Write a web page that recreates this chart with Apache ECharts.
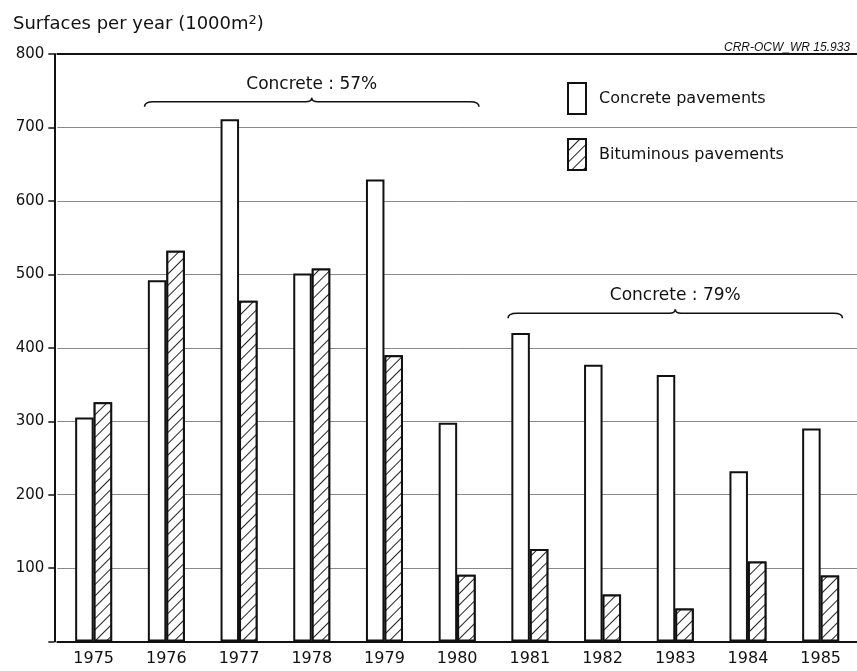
<!DOCTYPE html>
<html>
<head>
<meta charset="utf-8">
<script src="https://cdn.jsdelivr.net/npm/echarts@6/dist/echarts.min.js"></script>
<style>html,body{margin:0;padding:0;background:#fff}#c{width:857px;height:671px}</style>
</head>
<body>
<div id="c"></div>
<script>
const years = ['1975','1976','1977','1978','1979','1980','1981','1982','1983','1984','1985'];
const concrete = [305, 492, 711, 501, 629, 298, 420, 377, 363, 232, 290];
const bituminous = [326, 532, 464, 508, 390, 91, 126, 64, 45, 109, 90];
const yTicks = [0, 100, 200, 300, 400, 500, 600, 700, 800];
// brace annotations: [startIndex, endIndex, level, label]
const braces = [
  [1, 5, 735, 'Concrete : 57%'],
  [6, 10, 447, 'Concrete : 79%']
];

const FONT = 'DejaVu Sans';
const chart = echarts.init(document.getElementById('c'), null, {renderer: 'canvas'});

function braceItem(params, api) {
  const s = api.coord([api.value(0), api.value(2)]);
  const e = api.coord([api.value(1), api.value(2)]);
  const band = api.size([1, 0])[0];
  const pad = band * 0.3;
  const x0 = s[0] - pad, x1 = e[0] + pad, y = s[1];
  const xm = (x0 + x1) / 2;
  const h = 5;
  const d = `M${x0},${y + h} Q${x0},${y} ${x0 + 9},${y} L${xm - 6},${y} Q${xm},${y} ${xm},${y - 4} Q${xm},${y} ${xm + 6},${y} L${x1 - 9},${y} Q${x1},${y} ${x1},${y + h}`;
  return {
    type: 'group',
    children: [
      {type: 'path', shape: {pathData: d}, style: {fill: 'none', stroke: '#111', lineWidth: 1.6}},
      {type: 'text', style: {text: braces[params.dataIndex][3], x: xm, y: y - 9, textAlign: 'center', textVerticalAlign: 'bottom', font: `17px "${FONT}"`, fill: '#111'}}
    ]
  };
}

const hatch = {
  symbol: 'rect', symbolSize: 1, dashArrayX: [1, 0], dashArrayY: [0.9, 7],
  rotation: -Math.PI / 4, color: '#222', backgroundColor: '#fff'
};

chart.setOption({
  animation: false,
  backgroundColor: '#fff',
  title: [
    {
      text: '{a|Surfaces per year (1000m}{s|2}{a|)}',
      left: 8, top: 9,
      textStyle: {
        fontWeight: 'normal',
        rich: {
          a: {fontFamily: FONT, fontSize: 18, fontWeight: 'normal', color: '#111'},
          s: {fontFamily: FONT, fontSize: 13, fontWeight: 'normal', color: '#111', verticalAlign: 'top', padding: [0, 0, 8, 0]}
        }
      }
    },
    {
      text: 'CRR-OCW_WR 15.933', right: 2, top: 37,
      textStyle: {fontFamily: 'Liberation Sans', fontStyle: 'italic', fontWeight: 'normal', fontSize: 12, color: '#111'}
    }
  ],
  legend: {
    data: ['Concrete pavements', 'Bituminous pavements'],
    orient: 'vertical', left: 567, top: 82, padding: 0,
    itemWidth: 18, itemHeight: 31, itemGap: 23, icon: 'rect',
    textStyle: {fontFamily: FONT, fontSize: 16, color: '#111', padding: [0, 0, 0, 8]}
  },
  grid: {left: 57.3, right: -7.7, top: 54, bottom: 29.4, containLabel: false},
  xAxis: [
    {
      type: 'category', data: years, position: 'bottom',
      axisLine: {lineStyle: {color: '#111', width: 2}},
      axisTick: {alignWithLabel: true, length: 5, lineStyle: {color: '#111', width: 1.5}},
      axisLabel: {fontFamily: FONT, fontSize: 16, color: '#111', margin: 9}
    },
    {
      type: 'category', data: years, position: 'top',
      axisLine: {lineStyle: {color: '#111', width: 2}},
      axisTick: {show: false}, axisLabel: {show: false}
    }
  ],
  yAxis: {
    type: 'value', min: yTicks[0], max: yTicks[yTicks.length - 1], interval: 100, offset: 3,
    axisLine: {show: true, lineStyle: {color: '#111', width: 2}},
    axisTick: {show: true, length: 6, lineStyle: {color: '#111', width: 1.5}},
    axisLabel: {fontFamily: FONT, fontSize: 15, color: '#111', margin: 10, formatter: v => v === 0 ? '' : String(v)},
    splitLine: {lineStyle: {color: '#888', width: 1}}
  },
  series: [
    {
      name: 'Concrete pavements', type: 'bar', data: concrete,
      barWidth: 18.5, barGap: '0%',
      itemStyle: {color: '#fff', borderColor: '#111', borderWidth: 2}
    },
    {
      name: 'Bituminous pavements', type: 'bar', data: bituminous,
      barWidth: 18.5, barGap: '0%',
      itemStyle: {color: '#fff', borderColor: '#111', borderWidth: 2, decal: hatch}
    },
    {
      type: 'custom', renderItem: braceItem, data: braces.map(b => [b[0], b[1], b[2]]),
      encode: {x: [0, 1], y: 2}, clip: false, silent: true, z: 5
    }
  ]
});
</script>
</body>
</html>
